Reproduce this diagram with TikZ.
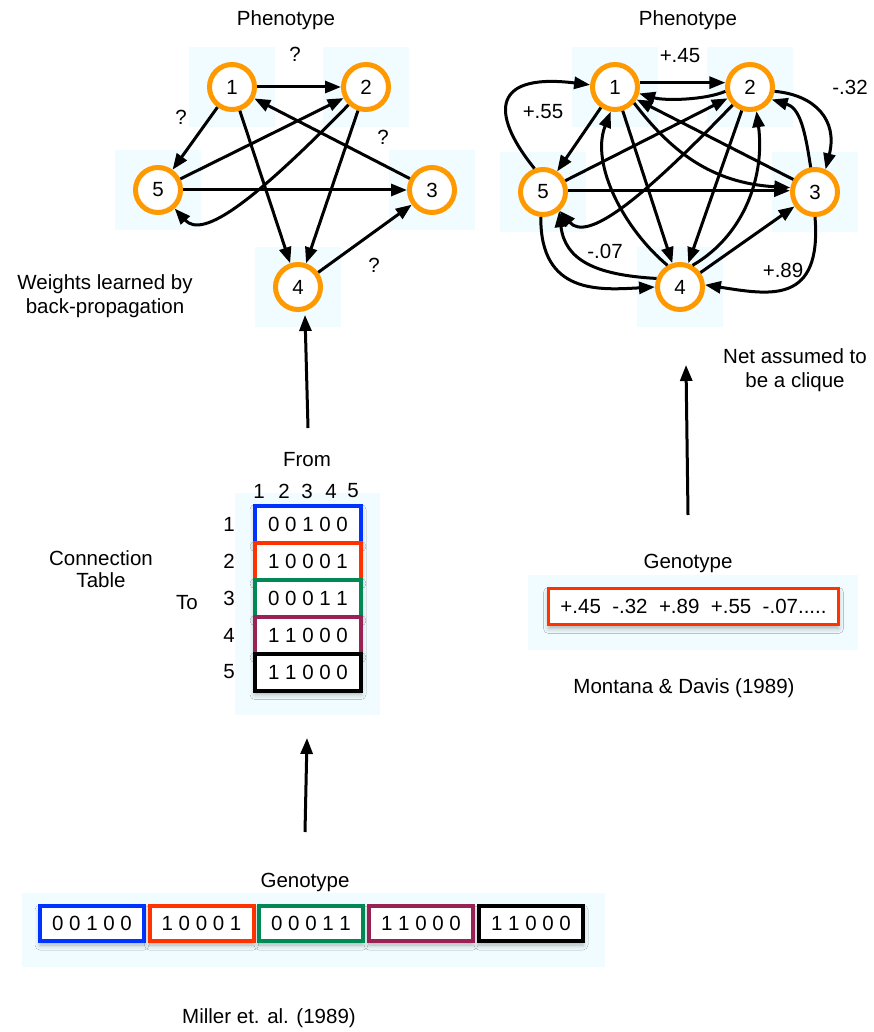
\documentclass[tikz,border=0pt]{standalone}
\usepackage{fontspec}
\setmainfont{Liberation Sans}
\usetikzlibrary{arrows.meta,shadows.blur}
\definecolor{pale}{RGB}{240,252,255}
\definecolor{ring}{RGB}{255,153,0}
\definecolor{cblue}{RGB}{0,51,255}
\definecolor{cred}{RGB}{255,51,0}
\definecolor{cgreen}{RGB}{0,136,85}
\definecolor{cpurple}{RGB}{153,34,85}
\begin{document}
\begin{tikzpicture}[x=1pt,y=-1pt,
  font=\fontsize{20.5}{24.5}\selectfont,
  neuron/.style={circle, draw=ring, line width=5pt, fill=white,
    minimum size=45pt, inner sep=0pt},
  link/.style={line width=3pt, -{Triangle[length=16pt,width=12pt]}},
  bigarrow/.style={line width=3pt, -{Triangle[length=16pt,width=12pt]}},
  soft/.style={blur shadow={shadow xshift=0pt, shadow yshift=-4pt,
    shadow blur radius=5pt, shadow opacity=30}},
  rowbox/.style={draw, line width=4pt, fill=white, minimum width=106pt,
    minimum height=37pt, inner sep=0pt, soft},
  genebox/.style={draw, line width=4pt, fill=white, minimum width=104pt,
    minimum height=35pt, inner sep=0pt, soft},
  txt/.style={inner sep=0pt, align=center}]

\useasboundingbox (0,0) rectangle (873,1032);

% pale plates behind the neurons
\foreach \cx/\cy in {232/87,366/87,158/190,432/190,298/287,
                     615/87,750/87,543/192,815/192,680/287}
  \fill[pale] (\cx-43,\cy-40) rectangle (\cx+43,\cy+40);

% ---------- left phenotype: sparse net ----------
\node[txt] (lphen) at (286,20) {Phenotype};
\node[neuron] (L1) at (232,87) {1};
\node[neuron] (L2) at (366,87) {2};
\node[neuron] (L5) at (158,190) {5};
\node[neuron] (L3) at (432,190) {3};
\node[neuron] (L4) at (298,287) {4};

\draw[link] (L1) -- (L2);
\draw[link] (L1) -- (L5);
\draw[link] (L1) -- (L4);
\draw[link] (L3) -- (L1);
\draw[link] (L5) -- (L2);
\draw[link] (L2) -- (L4);
\draw[link] (L5) -- (L3);
\draw[link] (L4) -- (L3);
\draw[link] (L2) .. controls (255,200) and (203,240) .. (L5);

\node[txt] (q12) at (295,54) {?};
\node[txt] (q15) at (181,117) {?};
\node[txt] (q31) at (383,137) {?};
\node[txt] (q43) at (374,265) {?};

\node[txt] (wlearn) at (105,296) {Weights learned by\\back-propagation};

% ---------- right phenotype: full clique ----------
\node[txt] (rphen) at (688,20) {Phenotype};
\node[neuron] (R1) at (615,87) {1};
\node[neuron] (R2) at (750,87) {2};
\node[neuron] (R5) at (543,192) {5};
\node[neuron] (R3) at (815,192) {3};
\node[neuron] (R4) at (680,287) {4};

\draw[link] (R1.10) -- (R2.170);
\draw[link] (R2.190) .. controls (705,100) and (665,101) .. (R1.-15);
\draw[link] (R5.110) .. controls (495,120) and (485,72) .. (R1.175);
\draw[link] (R1) -- (R5);
\draw[link] (R5) -- (R2);
\draw[link] (R2) .. controls (639,202) and (587,242) .. (R5);
\draw[link] (R1) -- (R4);
\draw[link] (R1.-40) .. controls (670,150) and (710,183) .. (R3.170);
\draw[link] (R3.150) -- (R1.-30);
\draw[link] (R2) -- (R4);
\draw[link] (R4.60) .. controls (745,235) and (765,175) .. (R2.-75);
\draw[link] (R4.120) .. controls (625,230) and (590,165) .. (R1.-100);
\draw[link] (R2.-10) .. controls (815,95) and (838,120) .. (R3.65);
\draw[link] (R3.100) .. controls (805,130) and (800,108) .. (R2.-30);
\draw[link] (R4) -- (R3);
\draw[link] (R3.-90) .. controls (822,305) and (770,295) .. (R4.5);
\draw[link] (R5.-95) .. controls (540,295) and (600,290) .. (R4.180);
\draw[link] (R4.160) .. controls (595,275) and (565,260) .. (R5.-50);
\draw[link] (R5.3) -- (R3.177);

\node[txt] (w12) at (680,56) {+.45};
\node[txt] (w23) at (850,87) {-.32};
\node[txt] (w51) at (543,112) {+.55};
\node[txt] (w45) at (605,251) {-.07};
\node[txt] (w34) at (783,270) {+.89};

\node[txt] (clique) at (795,370) {Net assumed to\\be a clique};

% ---------- connection table ----------
\fill[pale] (235,493) rectangle (380,715);
\node[txt] (from) at (307,460) {From};
\foreach \c/\x in {1/259,2/284,3/307,4/331,5/353}
  \node[txt] (col\c) at (\x,491) {\c};
\foreach \r/\y in {1/524,2/561,3/598,4/635,5/672}
  \node[txt] (row\r) at (229,\y) {\r};
\node[txt] (to) at (187,603) {To};
\node[txt, font=\fontsize{20.5}{22.5}\selectfont] (ctab) at (101,569)
  {Connection\\Table};

\node[rowbox, draw=cblue]   (t1) at (308,524) {0 0 1 0 0};
\node[rowbox, draw=cred]    (t2) at (308,561) {1 0 0 0 1};
\node[rowbox, draw=cgreen]  (t3) at (308,598) {0 0 0 1 1};
\node[rowbox, draw=cpurple] (t4) at (308,635) {1 1 0 0 0};
\node[rowbox, draw=black]   (t5) at (308,672) {1 1 0 0 0};

% ---------- direct-encoding genotype ----------
\fill[pale] (22,893) rectangle (605,967);
\node[txt] (lgen) at (305,882) {Genotype};
\node[genebox, draw=cblue]   (g1) at (92,923.5)  {0 0 1 0 0};
\node[genebox, draw=cred]    (g2) at (201.5,923.5) {1 0 0 0 1};
\node[genebox, draw=cgreen]  (g3) at (311,923.5) {0 0 0 1 1};
\node[genebox, draw=cpurple] (g4) at (421,923.5) {1 1 0 0 0};
\node[genebox, draw=black]   (g5) at (531,923.5) {1 1 0 0 0};
\node[txt] (miller) at (269,1018) {Miller et. al. (1989)};

% ---------- weight-list genotype ----------
\fill[pale] (528,575) rectangle (858,650);
\node[txt] (rgen) at (688,563) {Genotype};
\node[draw=cred, line width=3pt, fill=white, minimum width=290pt,
  minimum height=36pt, inner sep=0pt, soft] (wlist) at (693.5,606.5)
  {+.45~~-.32~~+.89~~+.55~~-.07.....};
\node[txt] (montana) at (684,688) {Montana \& Davis (1989)};

% ---------- development arrows ----------
\coordinate (a1s) at (308,428);
\coordinate (a1e) at (305,315);
\coordinate (a2s) at (305,832);
\coordinate (a2e) at (307,738);
\coordinate (a3s) at (688,515);
\coordinate (a3e) at (686,365);
\draw[bigarrow] (a1s) -- (a1e);
\draw[bigarrow] (a2s) -- (a2e);
\draw[bigarrow] (a3s) -- (a3e);
\end{tikzpicture}
\end{document}
